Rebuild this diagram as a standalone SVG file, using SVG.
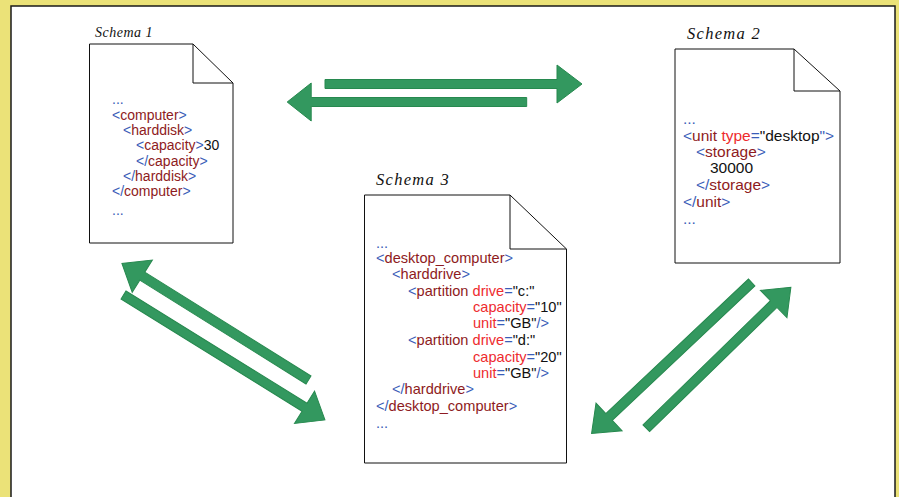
<svg xmlns="http://www.w3.org/2000/svg" width="899" height="497" viewBox="0 0 899 497">
<style>
.doc{fill:#fff;stroke:#111;stroke-width:1}
.fold{fill:none;stroke:#111;stroke-width:1}
.lbl{font-family:"Liberation Serif",serif;font-style:italic;fill:#111}
.code{font-family:"Liberation Sans",Arial,sans-serif;fill:#111}
.b{fill:#3A5DB8}
.t{fill:#8E1B22}
.a{fill:#EE2B2E}
.v{fill:#111}
.arr{fill:#33985F;stroke:#27894F;stroke-width:1}
</style>
<rect x="0" y="0" width="899" height="497" fill="#EBE278"/>
<rect x="11" y="6" width="884" height="500" fill="#fff" stroke="#1a1a1a" stroke-width="1.5"/>

<g id="schema1">
<text class="lbl" x="95" y="37" font-size="14" letter-spacing="0.5">Schema 1</text>
<path class="doc" d="M89.5,44 H193 L233,83 V243 H89.5 Z"/>
<path class="fold" d="M193,44 V83 H233"/>
<g class="code" font-size="14">
<text x="112" y="104" class="b">...</text>
<text x="112" y="119.5"><tspan class="b">&lt;</tspan><tspan class="t">computer</tspan><tspan class="b">&gt;</tspan></text>
<text x="123" y="135"><tspan class="b">&lt;</tspan><tspan class="t">harddisk</tspan><tspan class="b">&gt;</tspan></text>
<text x="136" y="150"><tspan class="b">&lt;</tspan><tspan class="t">capacity</tspan><tspan class="b">&gt;</tspan><tspan class="v">30</tspan></text>
<text x="136" y="165.5"><tspan class="b">&lt;/</tspan><tspan class="t">capacity</tspan><tspan class="b">&gt;</tspan></text>
<text x="123" y="181"><tspan class="b">&lt;/</tspan><tspan class="t">harddisk</tspan><tspan class="b">&gt;</tspan></text>
<text x="112" y="196"><tspan class="b">&lt;/</tspan><tspan class="t">computer</tspan><tspan class="b">&gt;</tspan></text>
<text x="112" y="215" class="b">...</text>
</g>
</g>

<g id="schema2">
<text class="lbl" x="687" y="39" font-size="16.5" letter-spacing="1.3">Schema 2</text>
<path class="doc" d="M675,49 H794 L840,91 V263 H675 Z"/>
<path class="fold" d="M794,49 V91 H840"/>
<g class="code" font-size="15.5">
<text x="683" y="123.5" class="b">...</text>
<text x="683" y="141"><tspan class="b">&lt;</tspan><tspan class="t">unit</tspan> <tspan class="a">type</tspan><tspan class="b">=</tspan><tspan class="v">"desktop</tspan><tspan class="b">"&gt;</tspan></text>
<text x="696" y="157"><tspan class="b">&lt;</tspan><tspan class="t">storage</tspan><tspan class="b">&gt;</tspan></text>
<text x="710" y="173" class="v">30000</text>
<text x="696" y="190"><tspan class="b">&lt;/</tspan><tspan class="t">storage</tspan><tspan class="b">&gt;</tspan></text>
<text x="683" y="206.5"><tspan class="b">&lt;/</tspan><tspan class="t">unit</tspan><tspan class="b">&gt;</tspan></text>
<text x="683" y="224" class="b">...</text>
</g>
</g>

<g id="schema3">
<text class="lbl" x="376" y="185" font-size="16.5" letter-spacing="1.3">Schema 3</text>
<path class="doc" d="M364.5,195 H510 L566.5,249 V463 H364.5 Z"/>
<path class="fold" d="M510,195 V249 H566.5"/>
<g class="code" font-size="14.6">
<text x="376" y="248" class="b">...</text>
<text x="376" y="263"><tspan class="b">&lt;</tspan><tspan class="t">desktop_computer</tspan><tspan class="b">&gt;</tspan></text>
<text x="392" y="279"><tspan class="b">&lt;</tspan><tspan class="t">harddrive</tspan><tspan class="b">&gt;</tspan></text>
<text x="408" y="295.5"><tspan class="b">&lt;</tspan><tspan class="t">partition</tspan> <tspan class="a">drive</tspan><tspan class="b">=</tspan><tspan class="v">"c:"</tspan></text>
<text x="473" y="312"><tspan class="a">capacity</tspan><tspan class="b">=</tspan><tspan class="v">"10"</tspan></text>
<text x="473" y="328"><tspan class="a">unit</tspan><tspan class="b">=</tspan><tspan class="v">"GB"</tspan><tspan class="b">/&gt;</tspan></text>
<text x="408" y="345"><tspan class="b">&lt;</tspan><tspan class="t">partition</tspan> <tspan class="a">drive</tspan><tspan class="b">=</tspan><tspan class="v">"d:"</tspan></text>
<text x="473" y="361.5"><tspan class="a">capacity</tspan><tspan class="b">=</tspan><tspan class="v">"20"</tspan></text>
<text x="473" y="378"><tspan class="a">unit</tspan><tspan class="b">=</tspan><tspan class="v">"GB"</tspan><tspan class="b">/&gt;</tspan></text>
<text x="392" y="394"><tspan class="b">&lt;/</tspan><tspan class="t">harddrive</tspan><tspan class="b">&gt;</tspan></text>
<text x="376" y="410.5"><tspan class="b">&lt;/</tspan><tspan class="t">desktop_computer</tspan><tspan class="b">&gt;</tspan></text>
<text x="376" y="428" class="b">...</text>
</g>
</g>

<g id="connectors">
<polygon class="arr" transform="translate(325,84)" points="0,-4.5 232,-4.5 232,-19 257,0 232,19 232,4.5 0,4.5"/>
<polygon class="arr" transform="translate(526.7,102) rotate(180)" points="0,-4.5 215.5,-4.5 215.5,-19 239.5,0 215.5,19 215.5,4.5 0,4.5"/>
<polygon class="arr" transform="translate(308.5,380) rotate(212)" points="0,-4.7 196,-4.7 196,-19 220,0 196,19 196,4.7 0,4.7"/>
<polygon class="arr" transform="translate(123.5,295) rotate(31.8)" points="0,-4.7 213,-4.7 213,-19 237,0 213,19 213,4.7 0,4.7"/>
<polygon class="arr" transform="translate(751.7,282.5) rotate(136.7)" points="0,-4.7 196,-4.7 196,-19 220,0 196,19 196,4.7 0,4.7"/>
<polygon class="arr" transform="translate(646.3,428.3) rotate(-44.3)" points="0,-4.7 178,-4.7 178,-19 202,0 178,19 178,4.7 0,4.7"/>
</g>
</svg>
